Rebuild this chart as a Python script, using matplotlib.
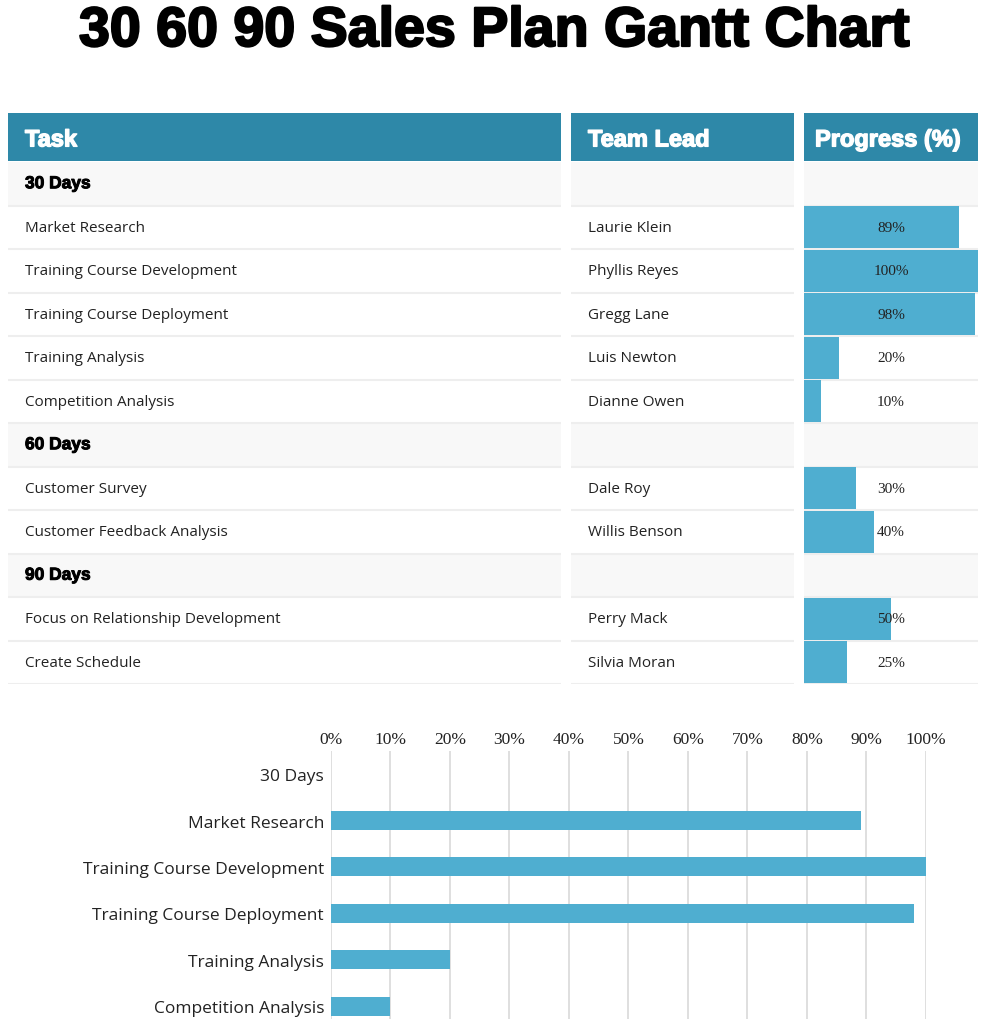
import matplotlib
matplotlib.use('Agg')
import matplotlib.pyplot as plt
import matplotlib.patheffects as pe
import numpy as np

# table / chart data
tasks = ['30 Days', 'Market Research', 'Training Course Development',
         'Training Course Deployment', 'Training Analysis', 'Competition Analysis',
         '60 Days', 'Customer Survey', 'Customer Feedback Analysis',
         '90 Days', 'Focus on Relationship Development', 'Create Schedule']
leads = ['', 'Laurie Klein', 'Phyllis Reyes', 'Gregg Lane', 'Luis Newton', 'Dianne Owen',
         '', 'Dale Roy', 'Willis Benson',
         '', 'Perry Mack', 'Silvia Moran']
progress = [0, 89, 100, 98, 20, 10, 0, 30, 40, 0, 50, 25]
is_group = [True, False, False, False, False, False, True, False, False, True, False, False]
headers = ['Task', 'Team Lead', 'Progress (%)']
ticks = [0, 10, 20, 30, 40, 50, 60, 70, 80, 90, 100]
chart_rows = 6  # the chart below the table is cut by the page, only the 30 day block shows

HEAD = '#2E88A8'
BAR = '#4FAED0'
GROUP_BG = '#F8F8F8'
LINE = '#EEEEEE'
SANS = ['Open Sans', 'DejaVu Sans']
SERIF = ['Liberation Serif', 'DejaVu Serif']
HEAVY = ['Liberation Sans', 'DejaVu Sans']

W, H = 987, 1020
fig = plt.figure(figsize=(W / 100, H / 100), dpi=100)


def box(x0, y0, x1, y1):
    return [x0 / W, 1 - y1 / H, (x1 - x0) / W, (y1 - y0) / H]


fig.text(0.5, 1 - 33 / H, '30 60 90 Sales Plan Gantt Chart', ha='center', va='center',
         fontsize=40, fontweight='bold', family=HEAVY,
         path_effects=[pe.withStroke(linewidth=1.6, foreground='black')])

cols = [(8, 561), (571, 794), (804, 978)]
head_pad = [17, 17, 11]
n = len(tasks)
rows = np.arange(n)

for i, (x0, x1) in enumerate(cols):
    # header cell
    hax = fig.add_axes(box(x0, 114, x1, 162))
    hax.set_facecolor(HEAD)
    hax.set_xticks([]); hax.set_yticks([])
    for s in hax.spines.values():
        s.set_visible(False)
    hax.text(head_pad[i] / (x1 - x0), 0.44, headers[i], transform=hax.transAxes,
             color='white', fontsize=17, fontweight='bold', va='center', family=HEAVY,
             path_effects=[pe.withStroke(linewidth=1.0, foreground='white')])

    # body cells
    ax = fig.add_axes(box(x0, 163, x1, 685))
    ax.set_xlim(0, 100)
    ax.set_ylim(n - 0.5, -0.5)
    ax.set_xticks([]); ax.set_yticks([])
    for s in ax.spines.values():
        s.set_visible(False)
    grp = [r for r in rows if is_group[r]]
    ax.barh(grp, [100] * len(grp), height=1.0, color=GROUP_BG, zorder=0)
    ax.hlines(rows + 0.5, 0, 100, color=LINE, lw=1.5, zorder=1)
    tx = 17 / (x1 - x0) * 100
    if i == 0:
        for r in rows:
            if is_group[r]:
                ax.text(tx, r, tasks[r], va='center', fontsize=12.5, fontweight='bold',
                        family=HEAVY,
                        path_effects=[pe.withStroke(linewidth=0.7, foreground='black')])
            else:
                ax.text(tx, r, tasks[r], va='center', fontsize=11, color='#222222', family=SANS)
    elif i == 1:
        for r in rows:
            ax.text(tx, r, leads[r], va='center', fontsize=11, color='#222222', family=SANS)
    else:
        ax.barh(rows, progress, height=0.97, color=BAR, zorder=2)
        for r in rows:
            if not is_group[r]:
                ax.text(50, r, f'{progress[r]}%', ha='center', va='center', fontsize=11,
                        color='#222222', family=SERIF, zorder=3)

# bar chart below the table, running to the page bottom
crow = np.arange(chart_rows)
cax = fig.add_axes(box(331, 752, 926, H))
cax.barh(crow, progress[:chart_rows], height=0.41, color=BAR, zorder=2)
cax.set_xlim(0, 100)
cax.set_ylim(chart_rows - 0.72, -0.5)
cax.set_xticks(ticks)
cax.set_xticklabels([f'{t}%' for t in ticks], family=SERIF, fontsize=12.5, color='#222222')
cax.xaxis.tick_top()
cax.set_yticks(crow)
cax.set_yticklabels(tasks[:chart_rows], family=SANS, fontsize=12.5, color='#222222')
cax.tick_params(axis='both', length=0)
cax.tick_params(axis='y', pad=5)
cax.tick_params(axis='x', pad=3)
cax.grid(axis='x', color='#D9D9D9', lw=1.2, zorder=0)
cax.set_axisbelow(True)
for s in cax.spines.values():
    s.set_visible(False)

fig.savefig('out.png', dpi=100)
